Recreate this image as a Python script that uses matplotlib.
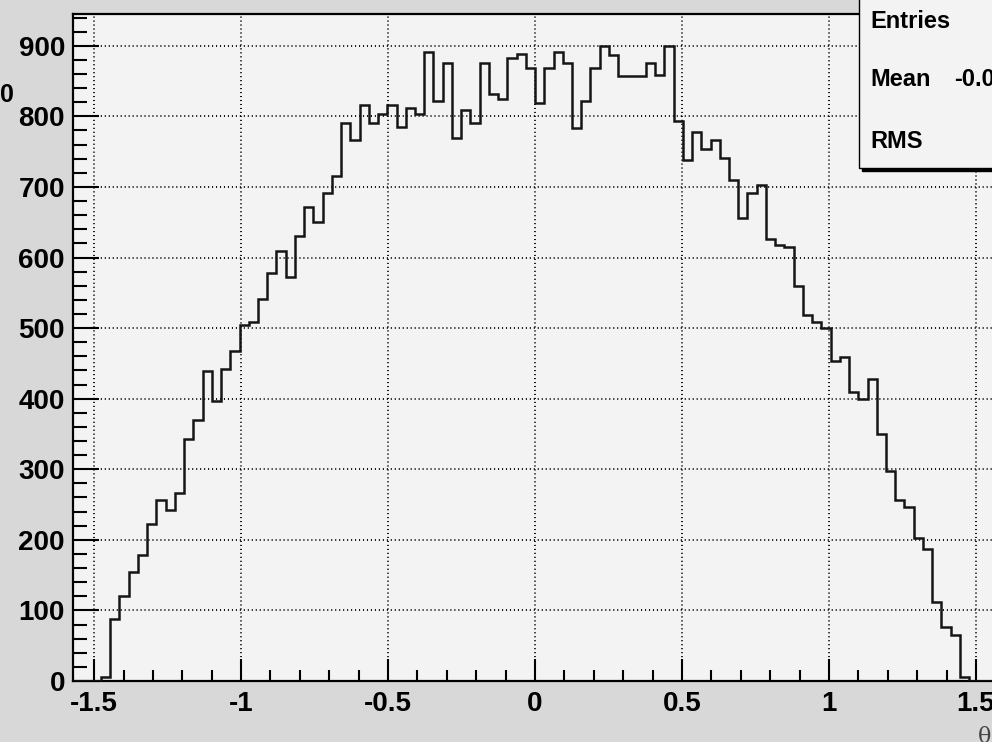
import numpy as np
import matplotlib
matplotlib.use("Agg")
import matplotlib.pyplot as plt
from matplotlib.patches import Rectangle
from matplotlib.ticker import MultipleLocator, FuncFormatter

plt.rcParams['font.family'] = ['Liberation Sans', 'DejaVu Sans']
plt.rcParams['axes.unicode_minus'] = False

# 100 bins over (-pi/2, pi/2)
n_bins = 100
counts = [
    0, 0, 0, 6, 88, 120, 154, 179, 223, 257,
    242, 267, 343, 370, 439, 396, 442, 467, 505, 508,
    541, 578, 609, 572, 631, 672, 650, 691, 716, 791,
    766, 816, 791, 804, 816, 785, 812, 803, 891, 822,
    875, 769, 809, 791, 875, 832, 825, 882, 888, 869,
    819, 869, 891, 875, 784, 822, 869, 900, 887, 857,
    857, 857, 875, 859, 900, 794, 738, 778, 754, 766,
    741, 710, 656, 691, 703, 626, 618, 615, 559, 518,
    509, 500, 453, 459, 409, 400, 428, 350, 298, 256,
    246, 202, 187, 112, 77, 65, 5, 0, 0, 0,
]
x_ticks = [-1.5, -1, -0.5, 0, 0.5, 1, 1.5]
stat_labels = ["Entries", "Mean", "RMS"]
mean_text = "-0.0"

edges = np.linspace(-np.pi / 2, np.pi / 2, n_bins + 1)

W, H = 992, 742
fig = plt.figure(figsize=(W / 100, H / 100), dpi=100)
fig.patch.set_facecolor('#d8d8d8')

# frame: left 73 px, bottom 681 px, top 14 px, right edge beyond the picture
ax = fig.add_axes([73.3 / W, (H - 681) / H, 923.5 / W, 667 / H])
ax.set_facecolor('#f3f3f3')

ax.stairs(counts, edges, color='#151515', linewidth=1.8, zorder=3)

ax.set_xlim(-np.pi / 2, np.pi / 2)
ax.set_ylim(0, 945)

ax.set_xticks(x_ticks)
ax.xaxis.set_minor_locator(MultipleLocator(0.1))
ax.yaxis.set_major_locator(MultipleLocator(100))
ax.yaxis.set_minor_locator(MultipleLocator(20))
ax.xaxis.set_major_formatter(FuncFormatter(lambda v, p: f"{v:g}"))

ax.tick_params(axis='x', which='major', direction='in', length=15.8, width=1.5, pad=7,
               labelsize=20, top=False)
ax.tick_params(axis='x', which='minor', direction='in', length=7.9, width=1.5, top=False)
ax.tick_params(axis='y', which='major', direction='in', length=19, width=1.5, pad=6,
               labelsize=20, right=False)
ax.tick_params(axis='y', which='minor', direction='in', length=10, width=1.5, right=False)
for lab in ax.get_xticklabels() + ax.get_yticklabels():
    lab.set_fontweight('bold')

# dotted grid, ~4 px between dots
ax.grid(True, which='major', color='black', linestyle=(0, (0.6, 1.6)), linewidth=1.3)
ax.set_axisbelow(True)

for s in ax.spines.values():
    s.set_linewidth(1.6)
    s.set_color('black')

# stats box (top right, cut by the picture edge)
bx, by = 859 / W, (H - 168) / H
fig.patches.append(Rectangle((bx + 3 / W, by - 3 / H), 0.3, 0.5, transform=fig.transFigure,
                             facecolor='black', edgecolor='black', zorder=5))
fig.patches.append(Rectangle((bx, by), 0.3, 0.5, transform=fig.transFigure,
                             facecolor='#f3f3f3', edgecolor='black', linewidth=1.0, zorder=6))
for lab, ypx in zip(stat_labels, [22, 80, 141]):
    fig.text(870 / W, 1 - ypx / H, lab, fontsize=17, fontweight='bold',
             ha='left', va='center', zorder=7)
fig.text(954 / W, 1 - 80 / H, mean_text, fontsize=17, fontweight='bold',
         ha='left', va='center', zorder=7)

# leftover title fragments around the frame
fig.text(13.5 / W, 1 - 95 / H, "0", fontsize=18, fontweight='bold', ha='right', va='center')
fig.text(978 / W, 1 - 726 / H, "θ", fontsize=16, family='DejaVu Serif', color='#444444',
         ha='left', va='top')

fig.savefig("out.png", dpi=100, facecolor=fig.get_facecolor())
